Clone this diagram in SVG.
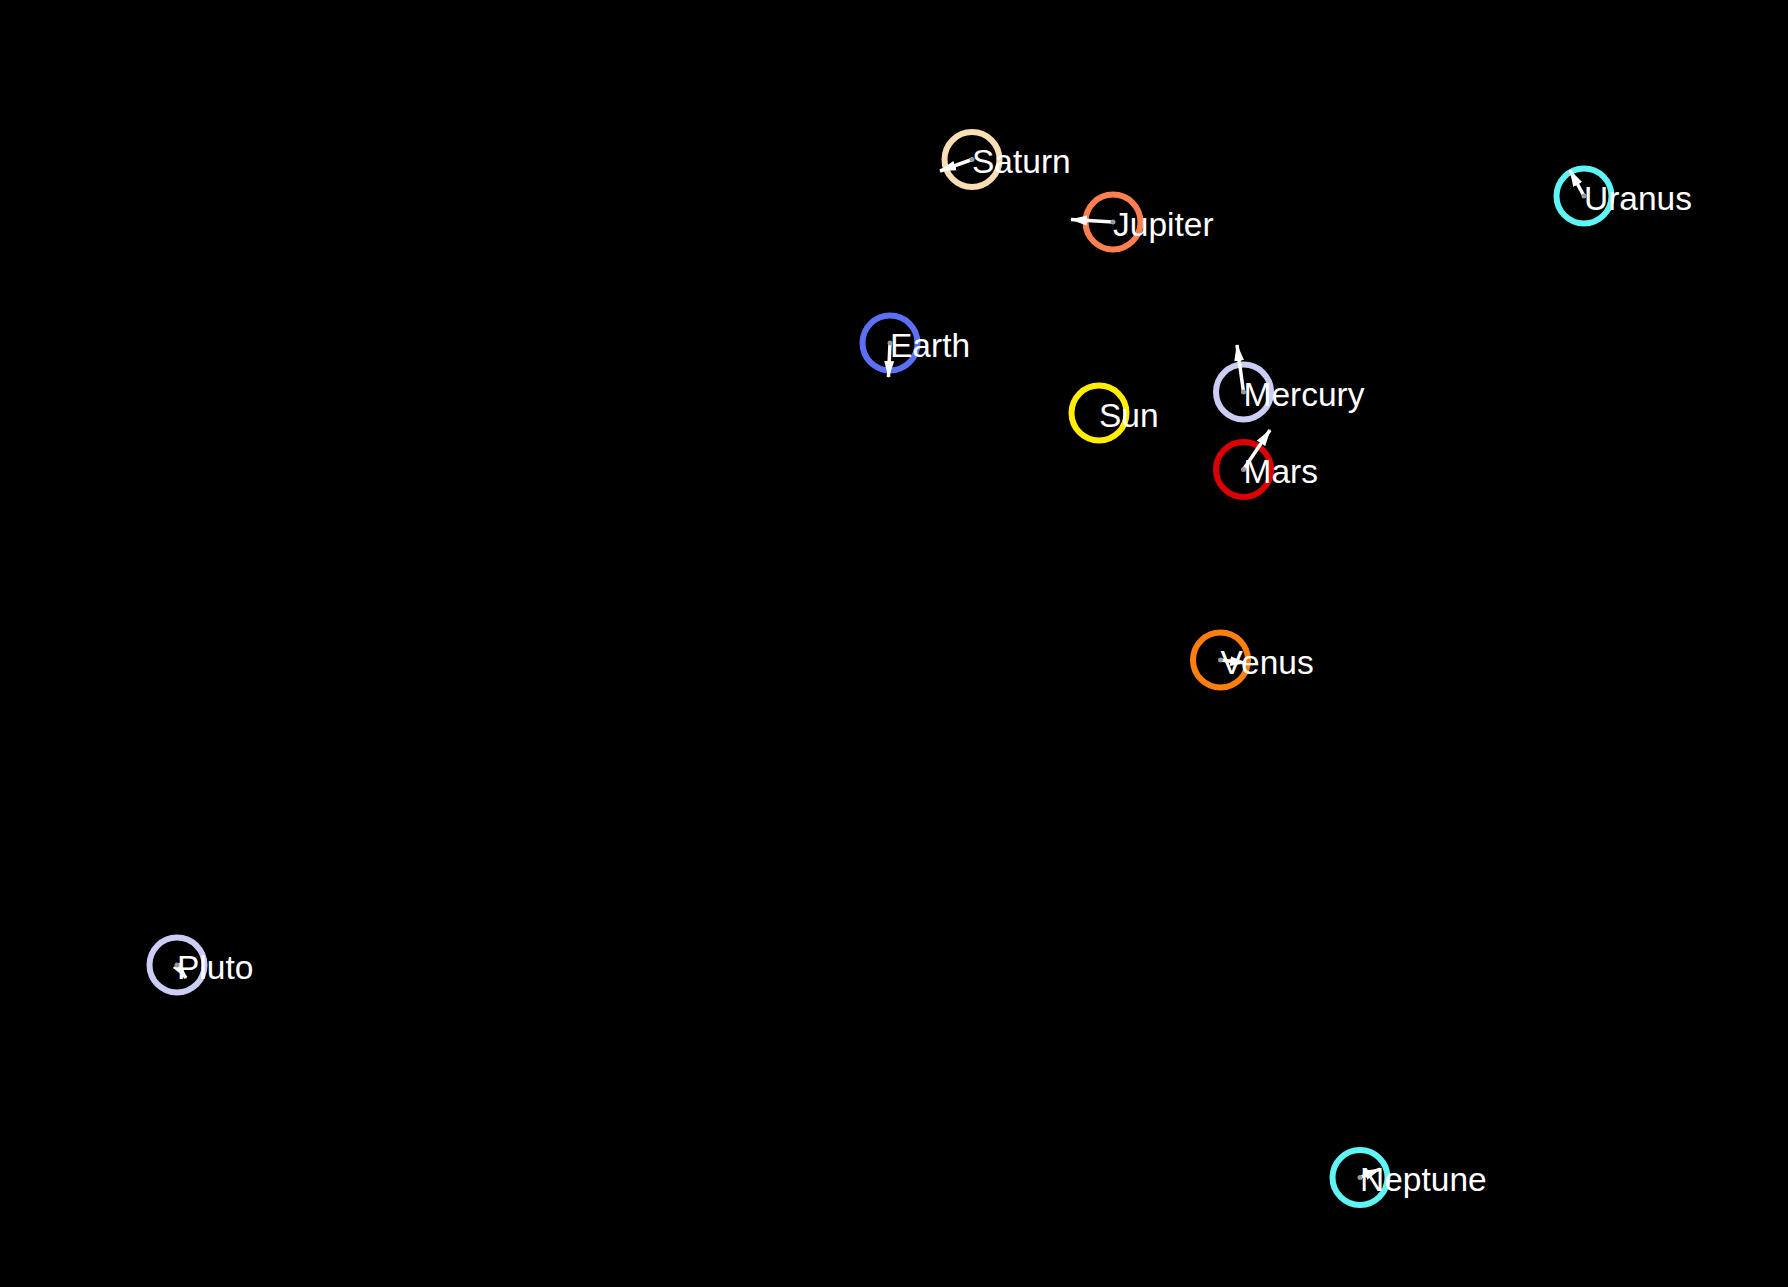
<svg xmlns="http://www.w3.org/2000/svg" width="1788" height="1287" viewBox="0 0 1788 1287">
  <style>
    .ring { fill: none; stroke-width: 6; }
    .label { font-family: "Liberation Sans", Arial, sans-serif; font-size: 33.5px; fill: #ffffff; }
    .vec { stroke: #ffffff; stroke-width: 3.5; fill: none; marker-end: url(#head); }
    .dot { fill: #999999; }
  </style>
  <defs>
    <marker id="head" markerUnits="userSpaceOnUse" markerWidth="18" markerHeight="12" viewBox="0 -6 18 12" refX="16" refY="0" orient="auto">
      <path d="M0,-5 L17,0 L0,5 Z" fill="#ffffff"/>
    </marker>
  </defs>
  <rect x="0" y="0" width="1788" height="1287" fill="#000000"/>

  <g id="nodes">
    <g id="saturn"><circle class="ring" cx="972" cy="159.5" r="27.5" stroke="#f9dfb3"/><text class="label" x="972" y="173">Saturn</text></g>
    <g id="jupiter"><circle class="ring" cx="1113" cy="222" r="27.5" stroke="#ff7f50"/><text class="label" x="1113" y="235.5">Jupiter</text></g>
    <g id="earth"><circle class="ring" cx="890" cy="343" r="27.5" stroke="#5b70f5"/><text class="label" x="890" y="356.5">Earth</text></g>
    <g id="sun"><circle class="ring" cx="1099" cy="413" r="27.5" stroke="#ffee00"/><text class="label" x="1099" y="426.5">Sun</text></g>
    <g id="mercury"><circle class="ring" cx="1243.5" cy="392" r="27.5" stroke="#ccccf5"/><text class="label" x="1243.5" y="405.5">Mercury</text></g>
    <g id="mars"><circle class="ring" cx="1243.5" cy="469.5" r="27.5" stroke="#dd0000"/><text class="label" x="1243.5" y="483">Mars</text></g>
    <g id="venus"><circle class="ring" cx="1220.5" cy="660" r="27.5" stroke="#ff7f0e"/><text class="label" x="1220.5" y="673.5">Venus</text></g>
    <g id="uranus"><circle class="ring" cx="1584" cy="196" r="27.5" stroke="#5ff5f5"/><text class="label" x="1584" y="209.5">Uranus</text></g>
    <g id="pluto"><circle class="ring" cx="177" cy="965" r="27.5" stroke="#ccccf5"/><text class="label" x="177" y="978.5">Pluto</text></g>
    <g id="neptune"><circle class="ring" cx="1360" cy="1177.5" r="27.5" stroke="#5ff5f5"/><text class="label" x="1360" y="1191">Neptune</text></g>
  </g>

  <g id="connectors">
    <line class="vec" x1="972" y1="159.5" x2="940" y2="171"/>
    <line class="vec" x1="1113" y1="222" x2="1071" y2="219.5"/>
    <line class="vec" x1="890" y1="343" x2="888.5" y2="377"/>
    <line class="vec" x1="1243.5" y1="392" x2="1237" y2="345"/>
    <line class="vec" x1="1243.5" y1="469.5" x2="1270" y2="430"/>
    <line class="vec" x1="1220.5" y1="660" x2="1246" y2="663"/>
    <line class="vec" x1="1584" y1="196" x2="1570" y2="170.5"/>
    <line class="vec" x1="177" y1="965" x2="186" y2="978"/>
    <line class="vec" x1="1360" y1="1177.5" x2="1380" y2="1169"/>
    <circle class="dot" cx="972" cy="159.5" r="2.5"/>
    <circle class="dot" cx="1113" cy="222" r="2.5"/>
    <circle class="dot" cx="890" cy="343" r="2.5"/>
    <circle class="dot" cx="1243.5" cy="392" r="2.5"/>
    <circle class="dot" cx="1243.5" cy="469.5" r="2.5"/>
    <circle class="dot" cx="1220.5" cy="660" r="2.5"/>
    <circle class="dot" cx="1584" cy="196" r="2.5"/>
    <circle class="dot" cx="177" cy="965" r="2.5"/>
    <circle class="dot" cx="1360" cy="1177.5" r="2.5"/>
  </g>
</svg>
